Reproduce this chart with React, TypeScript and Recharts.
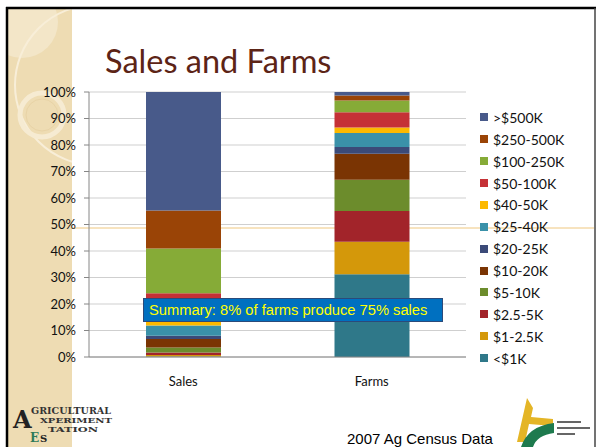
import React from 'react';
import { BarChart, Bar, XAxis, YAxis, CartesianGrid, Legend } from 'recharts';

const categories = ['Sales', 'Farms'];
// stack order, bottom to top
const seriesNames = ['<$1K', '$1-2.5K', '$2.5-5K', '$5-10K', '$10-20K', '$20-25K', '$25-40K', '$40-50K', '$50-100K', '$100-250K', '$250-500K', '>$500K'];
const salesValues = [0.2, 0.6, 0.9, 1.9, 3.2, 1.2, 3.9, 4.2, 8.0, 16.8, 14.4, 44.7];
const farmsValues = [31.2, 12.3, 11.6, 11.8, 9.8, 2.5, 5.3, 2.1, 5.8, 4.4, 1.9, 1.3];
const seriesColors = ['#2F7889', '#D4980A', '#A2242A', '#6C8C2C', '#7A3403', '#3B4A78', '#3A91A9', '#FCB900', '#C53136', '#86AB37', '#9A4406', '#485A8A'];
const yTicks = [0, 10, 20, 30, 40, 50, 60, 70, 80, 90, 100];

const valuesByCategory = [salesValues, farmsValues];
const data = categories.map((c, ci) => {
  const row: Record<string, string | number> = { name: c };
  seriesNames.forEach((s, si) => {
    row[s] = valuesByCategory[ci][si];
  });
  return row;
});

const FONT = 'Lato, "Open Sans", sans-serif';

const LegendContent = () => {
  const items = seriesNames.map((s, i) => ({ value: s, color: seriesColors[i] })).reverse();
  return (
    <div style={{ fontFamily: FONT, fontSize: 14, color: '#111' }}>
      {items.map((it) => (
        <div key={it.value} style={{ height: 21.9, display: 'flex', alignItems: 'center' }}>
          <span style={{ display: 'inline-block', width: 8, height: 8, background: it.color, marginRight: 5 }} />
          <span>{it.value}</span>
        </div>
      ))}
    </div>
  );
};

export default function App() {
  return (
    <div style={{ position: 'absolute', left: 0, top: 0, width: 596, height: 447, background: '#fff', overflow: 'hidden' }}>
      {/* left decorative strip */}
      <div style={{ position: 'absolute', left: 8, top: 9, width: 64, height: 440, background: '#EEDCB3' }} />
      <svg width={596} height={447} style={{ position: 'absolute', left: 0, top: 0 }}>
        <defs>
          <clipPath id="strip">
            <rect x={8} y={9} width={64} height={440} />
          </clipPath>
        </defs>
        <g clipPath="url(#strip)">
          <circle cx={22} cy={22} r={36} fill="#F3E6C8" />
          <circle cx={95} cy={85} r={80} fill="none" stroke="#F8EED8" strokeWidth={2} />
          <circle cx={42} cy={115} r={22} fill="none" stroke="#F6EBD2" strokeWidth={5} />
          <circle cx={42} cy={115} r={16} fill="none" stroke="#E8D3A6" strokeWidth={1} />
        </g>
        {/* frame */}
        <line x1={6} y1={8} x2={596} y2={8} stroke="#000" strokeWidth={2.5} />
        <line x1={7} y1={7} x2={7} y2={447} stroke="#000" strokeWidth={2.5} />
        <line x1={595} y1={8} x2={595} y2={447} stroke="#444" strokeWidth={1.5} />
        {/* template accent line */}
        <line x1={72} y1={228} x2={594} y2={228} stroke="#EFC77E" strokeWidth={1} />
      </svg>

      <div style={{ position: 'absolute', left: 0, top: 0 }}>
        <BarChart width={596} height={447} data={data} margin={{ top: 92, right: 130, bottom: 60, left: 0 }} barSize={75}>
          <CartesianGrid vertical={false} stroke="#CFCFCF" strokeWidth={1.2} />
          <XAxis dataKey="name" axisLine={{ stroke: '#868686' }} tickLine={false} tickMargin={14}
            tick={{ fill: '#111', fontSize: 13, fontFamily: FONT }} />
          <YAxis width={89} domain={[0, 100]} ticks={yTicks} tickFormatter={(v: number) => `${v}%`}
            axisLine={{ stroke: '#868686' }} tickLine={{ stroke: '#868686' }} tickSize={5} tickMargin={8}
            tick={{ fill: '#111', fontSize: 13, fontFamily: FONT }} interval={0} />
          <Legend layout="vertical" align="center" verticalAlign="middle" content={LegendContent}
            wrapperStyle={{ left: 480, top: 106.4, width: 115, height: 270 }} />
          {seriesNames.map((s, i) => (
            <Bar key={s} dataKey={s} stackId="a" fill={seriesColors[i]} isAnimationActive={false} />
          ))}
        </BarChart>
      </div>

      {/* title */}
      <div style={{ position: 'absolute', left: 105, top: 41, fontFamily: FONT, fontSize: 32.5, color: '#5C2416', whiteSpace: 'nowrap' }}>
        Sales and Farms
      </div>

      {/* summary box */}
      <div style={{ position: 'absolute', left: 143, top: 298, width: 293, height: 22, background: '#0070C0', border: '1px solid #2B4A7A',
        color: '#FFFF00', fontFamily: '"Liberation Sans", Arial, sans-serif', fontSize: 14.7, lineHeight: '22px', paddingLeft: 5, boxSizing: 'content-box', whiteSpace: 'nowrap' }}>
        Summary: 8% of farms produce 75% sales
      </div>

      {/* footer */}
      <div style={{ position: 'absolute', left: 347, top: 430, fontFamily: '"Liberation Sans", Arial, sans-serif', fontSize: 15, color: '#000', whiteSpace: 'nowrap' }}>
        2007 Ag Census Data
      </div>

      {/* logos (approximate) */}
      <svg width={596} height={447} style={{ position: 'absolute', left: 0, top: 0 }}>
        <g fontFamily='"DejaVu Serif", serif' fontWeight="bold" fill="#333">
          <text x={13} y={428} fontSize={24} fill="#222">A</text>
          <text x={31} y={414} fontSize={9} textLength={80} lengthAdjust="spacingAndGlyphs">GRICULTURAL</text>
          <text x={40} y={423} fontSize={8} textLength={72} lengthAdjust="spacingAndGlyphs">XPERIMENT</text>
          <text x={48} y={432} fontSize={8} textLength={50} lengthAdjust="spacingAndGlyphs">TATION</text>
          <text x={30} y={442} fontSize={12} fill="#2E7A5A">E</text>
          <text x={40} y={442} fontSize={10} fill="#222">S</text>
        </g>
        <g>
          <path d="M527 398 L517 442 L525 442 L529 424 L553 426 L553 419 L531 417 L533 408 Z" fill="#E4B526" />
          <path d="M521 447 Q528 426 554 423 L554 433 Q537 435 533 447 Z" fill="#1E7A4E" />
          <rect x={557} y={421} width={24} height={2} fill="#666" />
          <rect x={557} y={427} width={33} height={2} fill="#666" />
          <rect x={557} y={433} width={18} height={2} fill="#666" />
        </g>
      </svg>
    </div>
  );
}
